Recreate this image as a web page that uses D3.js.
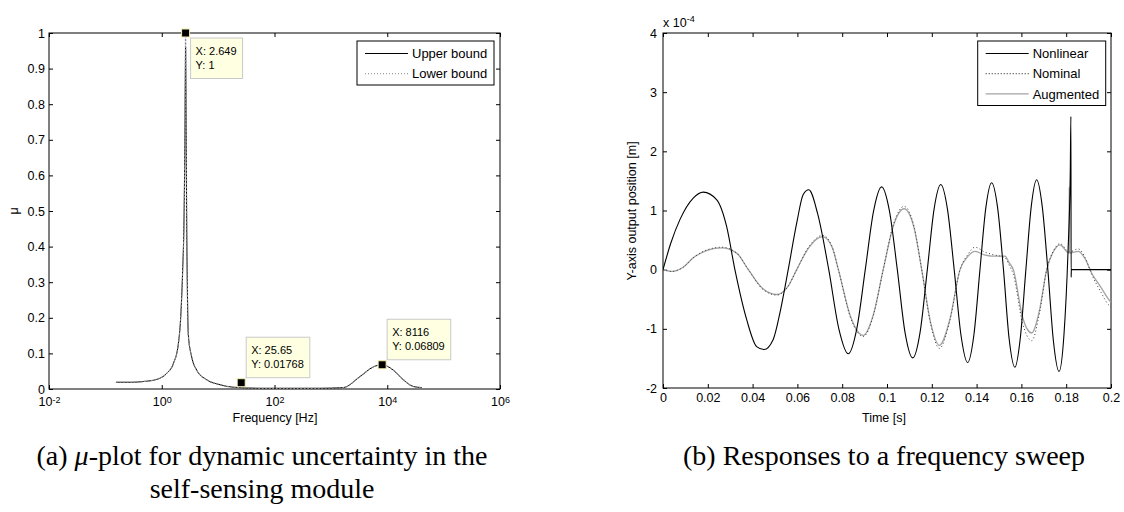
<!DOCTYPE html>
<html>
<head>
<meta charset="utf-8">
<title>mu-plot and frequency sweep</title>
<style>
  body { margin: 0; background: #fff; }
  svg text { font-family: Arial, "Liberation Sans", sans-serif; fill: #000; }
  .caption { font-family: "Liberation Serif", "Times New Roman", serif; }
</style>
</head>
<body>
<svg id="svg" width="1124" height="512"></svg>

<script src="https://d3js.org/d3.v7.min.js"></script>
<script>
// ---- data: (a) mu-plot ----
const muFreq = [0.154, 0.3, 0.471, 0.814, 1.224, 1.603, 1.966, 2.196, 2.353, 2.481, 2.57, 2.62, 2.649,
  2.68, 2.72, 2.77, 2.86, 2.958, 3.4, 4.17, 6.27, 10.8, 18.6, 55, 641, 1660, 3288, 5660, 8116,
  12800, 19260, 28980, 40830];
const muUpper = [0.019, 0.019, 0.021, 0.027, 0.044, 0.071, 0.126, 0.218, 0.337, 0.475, 0.69, 0.88, 0.96,
  0.86, 0.68, 0.47, 0.26, 0.153, 0.09, 0.053, 0.026, 0.012, 0.005, 0.002, 0.002, 0.004, 0.035, 0.062, 0.0681,
  0.053, 0.026, 0.007, 0.004];
const muLower = [0.019, 0.019, 0.021, 0.027, 0.044, 0.071, 0.125, 0.216, 0.335, 0.47, 0.7, 0.92, 1.0,
  0.9, 0.7, 0.48, 0.26, 0.152, 0.09, 0.053, 0.026, 0.012, 0.005, 0.002, 0.002, 0.004, 0.035, 0.062, 0.0681,
  0.053, 0.026, 0.007, 0.004];
const tipFreq = [2.649, 25.65, 8116];
const tipMu = [1, 0.01768, 0.06809];
const freqTicks = [1e-2, 1e0, 1e2, 1e4, 1e6];
const muTicks = [0, 0.1, 0.2, 0.3, 0.4, 0.5, 0.6, 0.7, 0.8, 0.9, 1];

// ---- data: (b) frequency sweep (units of 1e-4 m) ----
const nlTime = [0, 0.0035, 0.0076, 0.0135, 0.018, 0.024, 0.0284, 0.0321, 0.0374, 0.0418, 0.0451, 0.0492,
  0.0522, 0.0559, 0.0597, 0.0626, 0.0651, 0.069, 0.074, 0.0785, 0.0827, 0.0865, 0.0903, 0.094, 0.0976,
  0.1011, 0.1046, 0.108, 0.1115, 0.1148, 0.118, 0.121, 0.124, 0.127, 0.13, 0.133, 0.136, 0.1388, 0.1415,
  0.1441, 0.1467, 0.1494, 0.152, 0.1545, 0.1571, 0.1595, 0.162, 0.1644, 0.1668, 0.1693, 0.1718, 0.1743,
  0.1768, 0.179, 0.1808, 0.1818, 0.1821, 0.1822, 0.1823, 0.2];
const nlVal = [0, 0.45, 0.85, 1.21, 1.31, 1.18, 0.73, 0, -0.85, -1.3, -1.35, -1.18,
  -0.73, 0, 0.79, 1.27, 1.35, 0.95, 0, -1.0, -1.42, -1.0, 0, 0.99, 1.4,
  0.99, 0, -1.05, -1.49, -1.05, 0, 1.02, 1.44, 1.02, 0, -1.1, -1.57, -1.1, 0,
  1.04, 1.47, 1.04, 0, -1.16, -1.65, -1.16, 0, 1.07, 1.52, 1.07, 0, -1.21,
  -1.72, -1.1, 0.3, 1.6, 2.59, -0.13, 0, 0];
const augTime = [0, 0.004, 0.009, 0.0135, 0.02, 0.0262, 0.0329, 0.0381, 0.0445, 0.0508, 0.0555, 0.0597,
  0.065, 0.0713, 0.0755, 0.0783, 0.0838, 0.0894, 0.094, 0.0983, 0.103, 0.1076, 0.112, 0.1155, 0.1195,
  0.1234, 0.128, 0.1326, 0.136, 0.1393, 0.1435, 0.1467, 0.1527, 0.1545, 0.1564, 0.1605, 0.1646, 0.168,
  0.1713, 0.1745, 0.1772, 0.1812, 0.18135, 0.1815, 0.1854, 0.1885, 0.1914, 0.1955, 0.1991, 0.2];
const augVal = [0, -0.03, 0.04, 0.2, 0.33, 0.37, 0.28, 0, -0.32, -0.42, -0.3, 0,
  0.37, 0.56, 0.38, 0, -0.8, -1.11, -0.75, 0, 0.76, 1.03, 0.72, 0, -0.9,
  -1.28, -0.85, 0, 0.22, 0.31, 0.25, 0.23, 0.23, 0.12, 0, -0.8, -1.07, -0.7,
  0, 0.32, 0.42, 0.28, 1.4, 0.28, 0.31, 0.18, -0.06, -0.3, -0.51, -0.55];
const nomTime = [0, 0.004, 0.009, 0.0135, 0.02, 0.0262, 0.0329, 0.0381, 0.0445, 0.0508, 0.0555, 0.0597,
  0.065, 0.0713, 0.0755, 0.0783, 0.0838, 0.0894, 0.094, 0.0983, 0.103, 0.1076, 0.112, 0.1155, 0.1195,
  0.1234, 0.128, 0.1326, 0.136, 0.1393, 0.1435, 0.1467, 0.1527, 0.1545, 0.1564, 0.1605, 0.1646, 0.168,
  0.1713, 0.1745, 0.1772, 0.1814, 0.1854, 0.1885, 0.1914, 0.1955, 0.1991, 0.2];
const nomVal = [0, -0.03, 0.04, 0.2, 0.34, 0.38, 0.28, 0, -0.33, -0.43, -0.3, 0,
  0.38, 0.58, 0.39, 0, -0.82, -1.13, -0.76, 0, 0.78, 1.07, 0.74, 0, -0.92,
  -1.33, -0.87, 0, 0.25, 0.38, 0.3, 0.26, 0.2, 0.08, -0.08, -0.9, -1.2, -0.75,
  0, 0.33, 0.44, 0.3, 0.35, 0.2, -0.08, -0.38, -0.6, -0.62];
const timeTicks = [0, 0.02, 0.04, 0.06, 0.08, 0.1, 0.12, 0.14, 0.16, 0.18, 0.2];
const posTicks = [-2, -1, 0, 1, 2, 3, 4];

const svg = d3.select('#svg');

// draw a MATLAB style box with inward ticks on all four sides
function drawFrame(x, y, xTicks, yTicks, xFmt, yFmt, xPad, yPad) {
  const [x0, x1] = x.range();
  const [y0, y1] = y.range();
  const g = svg.append('g');
  const bottom = g.append('g').attr('transform', `translate(0,${y0})`)
    .call(d3.axisBottom(x).tickValues(xTicks).tickSizeInner(-4).tickSizeOuter(0).tickPadding(xPad).tickFormat(xFmt));
  g.append('g').attr('transform', `translate(0,${y1})`)
    .call(d3.axisTop(x).tickValues(xTicks).tickSizeInner(-4).tickSizeOuter(0).tickFormat(''));
  const left = g.append('g').attr('transform', `translate(${x0},0)`)
    .call(d3.axisLeft(y).tickValues(yTicks).tickSizeInner(-4).tickSizeOuter(0).tickPadding(yPad).tickFormat(yFmt));
  g.append('g').attr('transform', `translate(${x1},0)`)
    .call(d3.axisRight(y).tickValues(yTicks).tickSizeInner(-4).tickSizeOuter(0).tickFormat(''));
  g.selectAll('.domain').remove();
  g.selectAll('.tick line').attr('stroke', '#000');
  g.selectAll('.tick text').attr('font-size', 12.5).attr('font-family', 'Arial, "Liberation Sans", sans-serif');
  g.append('rect').attr('x', x0).attr('y', y1).attr('width', x1 - x0).attr('height', y0 - y1)
    .attr('fill', 'none').attr('stroke', '#000').attr('stroke-width', 1);
  return { bottom, left };
}

function drawLegend(right, top, w, items) {
  const g = svg.append('g');
  const h = items.length * 20.5 + 3;
  g.append('rect').attr('x', right - w).attr('y', top).attr('width', w).attr('height', h)
    .attr('fill', '#fff').attr('stroke', '#000');
  items.forEach((it, i) => {
    const cy = top + 12.5 + i * 20.2;
    g.append('line').attr('x1', right - w + 8).attr('x2', right - w + 51).attr('y1', cy).attr('y2', cy)
      .attr('stroke', it.color).attr('stroke-width', 1.2).attr('stroke-dasharray', it.dash);
    g.append('text').attr('x', right - w + 55).attr('y', cy).attr('dy', '0.36em')
      .attr('font-size', 13).text(it.label);
  });
}

// ================= (a) =================
const lx = d3.scaleLog().domain([1e-2, 1e6]).range([49, 500]);
const ly = d3.scaleLinear().domain([0, 1]).range([389, 33]);

const fa = drawFrame(lx, ly, freqTicks, muTicks, d => d, d => d3.format('.1~f')(d), 8, 4);
fa.bottom.selectAll('.tick text').each(function (d) {
  const t = d3.select(this);
  t.text(null);
  t.append('tspan').text('10');
  t.append('tspan').attr('dy', '-0.35em').attr('font-size', 9).text(Math.round(Math.log10(d)));
});

svg.append('defs').append('clipPath').attr('id', 'clipA').append('rect')
  .attr('x', 49).attr('y', 33).attr('width', 451).attr('height', 356);

const lineA = d3.line().x((d, i) => lx(muFreq[i])).y(d => ly(d)).curve(d3.curveMonotoneX);
const ga = svg.append('g').attr('clip-path', 'url(#clipA)');
ga.append('path').attr('d', lineA(muUpper)).attr('fill', 'none').attr('stroke', '#000').attr('stroke-width', 1);
ga.append('path').attr('d', lineA(muLower)).attr('fill', 'none').attr('stroke', '#8a8a8a')
  .attr('stroke-width', 1.2).attr('stroke-dasharray', '2,1.5');

// data tips
const tipSide = ['below', 'above', 'above'];
tipFreq.forEach((f, i) => {
  const mx = lx(f), my = ly(tipMu[i]);
  const g = svg.append('g');
  const bx = mx + 5;
  const by = tipSide[i] === 'below' ? my + 5 : my - 45.5;
  const box = g.append('rect').attr('x', bx).attr('y', by).attr('height', 40.5)
    .attr('fill', '#ffffe1').attr('stroke', '#c9c9c9');
  const t1 = g.append('text').attr('x', bx + 5).attr('y', by + 17).attr('font-size', 11).text(`X: ${f}`);
  const t2 = g.append('text').attr('x', bx + 5).attr('y', by + 31).attr('font-size', 11).text(`Y: ${tipMu[i]}`);
  const w = Math.max(t1.node().getComputedTextLength(), t2.node().getComputedTextLength()) + 11;
  box.attr('width', w);
  g.append('rect').attr('x', mx - 4).attr('y', my - 4).attr('width', 8).attr('height', 8)
    .attr('fill', '#000').attr('stroke', '#f5f0b0').attr('stroke-width', 1);
});

drawLegend(494, 41, 137, [
  { label: 'Upper bound', color: '#000', dash: null },
  { label: 'Lower bound', color: '#a0a0a0', dash: '1,2' }
]);

svg.append('text').attr('x', 275).attr('y', 422).attr('text-anchor', 'middle').attr('font-size', 12.5)
  .text('Frequency [Hz]');
svg.append('text').attr('transform', 'translate(18,211) rotate(-90)').attr('text-anchor', 'middle')
  .attr('font-size', 12.5).text('μ');

// ================= (b) =================
const rx = d3.scaleLinear().domain([0, 0.2]).range([663, 1111]);
const ry = d3.scaleLinear().domain([-2, 4]).range([388, 33]);

drawFrame(rx, ry, timeTicks, posTicks, d => d3.format('~g')(d), d => d, 5, 6);

svg.append('defs').append('clipPath').attr('id', 'clipB').append('rect')
  .attr('x', 663).attr('y', 33).attr('width', 448).attr('height', 355);
const gb = svg.append('g').attr('clip-path', 'url(#clipB)');

function sweepLine(times) {
  return d3.line().x((d, i) => rx(times[i])).y(d => ry(d)).curve(d3.curveMonotoneX);
}
gb.append('path').attr('d', sweepLine(augTime)(augVal)).attr('fill', 'none')
  .attr('stroke', '#a3a3a3').attr('stroke-width', 1.3);
gb.append('path').attr('d', sweepLine(nomTime)(nomVal)).attr('fill', 'none')
  .attr('stroke', '#3a3a3a').attr('stroke-width', 1).attr('stroke-dasharray', '1,2.5');
gb.append('path').attr('d', sweepLine(nlTime)(nlVal)).attr('fill', 'none')
  .attr('stroke', '#000').attr('stroke-width', 1.1);

drawLegend(1105.7, 41, 128, [
  { label: 'Nonlinear', color: '#000', dash: null },
  { label: 'Nominal', color: '#444', dash: '1,2' },
  { label: 'Augmented', color: '#a3a3a3', dash: null }
]);

const mult = svg.append('text').attr('x', 663).attr('y', 27).attr('font-size', 12.5);
mult.append('tspan').text('x 10');
mult.append('tspan').attr('dy', '-0.6em').attr('font-size', 9).text('-4');

svg.append('text').attr('x', 884).attr('y', 422).attr('text-anchor', 'middle').attr('font-size', 12.5)
  .text('Time [s]');
svg.append('text').attr('transform', 'translate(636,211) rotate(-90)').attr('text-anchor', 'middle')
  .attr('font-size', 12.5).text('Y-axis output position [m]');

// ================= captions =================
const capA = svg.append('text').attr('class', 'caption').attr('x', 262).attr('y', 465)
  .attr('text-anchor', 'middle').attr('font-size', 28);
capA.append('tspan').text('(a) ');
capA.append('tspan').attr('font-style', 'italic').text('μ');
capA.append('tspan').text('-plot for dynamic uncertainty in the');
svg.append('text').attr('class', 'caption').attr('x', 262).attr('y', 498)
  .attr('text-anchor', 'middle').attr('font-size', 28).text('self-sensing module');
svg.append('text').attr('class', 'caption').attr('x', 884).attr('y', 465)
  .attr('text-anchor', 'middle').attr('font-size', 28).text('(b) Responses to a frequency sweep');
</script>
</body>
</html>
